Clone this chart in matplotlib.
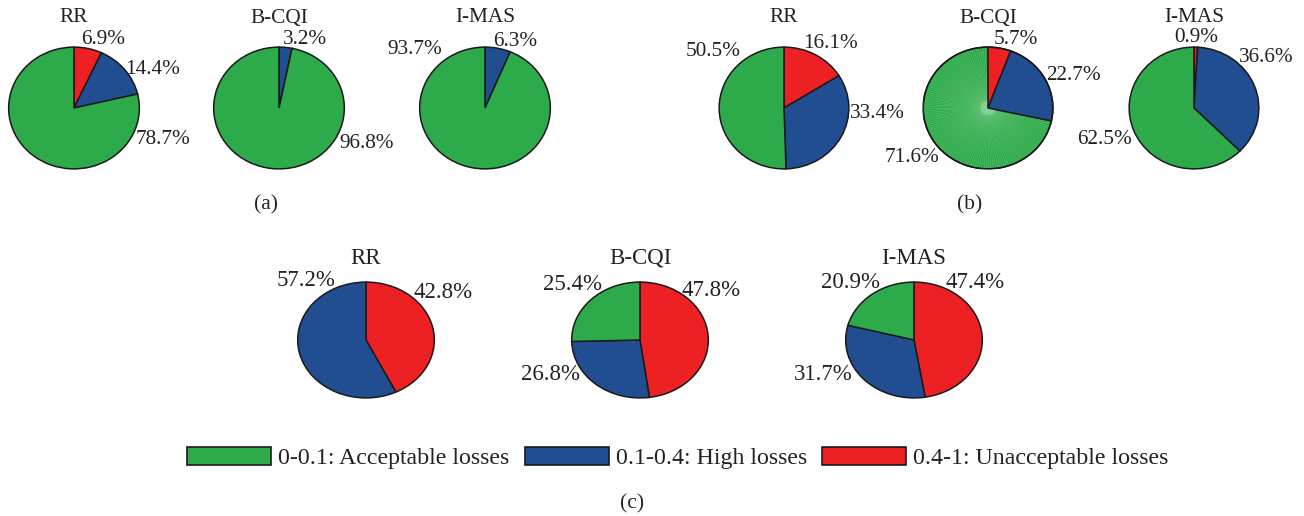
import matplotlib
matplotlib.use("Agg")
import numpy as np
import matplotlib.pyplot as plt
from matplotlib.patches import Patch

# ---------------- data ----------------
methods = ["RR", "B-CQI", "I-MAS"]
# order inside each pie (clockwise from top): unacceptable, high, acceptable
unacc_a = [6.9, 0.0, 0.0]
high_a = [14.4, 3.2, 6.3]
accept_a = [78.7, 96.8, 93.7]

unacc_b = [16.1, 5.7, 0.9]
high_b = [33.4, 22.7, 36.6]
accept_b = [50.5, 71.6, 62.5]

unacc_c = [42.8, 47.8, 47.4]
high_c = [57.2, 26.8, 31.7]
accept_c = [0.0, 25.4, 20.9]

legend_labels = ["0-0.1: Acceptable losses", "0.1-0.4: High losses",
                 "0.4-1: Unacceptable losses"]
panel_labels = ["(a)", "(b)", "(c)"]

# ---------------- style ----------------
C_RED = "#ED2024"
C_BLUE = "#214D91"
C_GREEN = "#2DAA4A"
EDGE = "#1a1a1a"
FONT = ["Liberation Serif", "DejaVu Serif"]
plt.rcParams["font.family"] = FONT

W, H = 1304, 516
fig = plt.figure(figsize=(W / 100, H / 100), dpi=100)

def px_text(x, y, s, size=15, **kw):
    fig.text(x / W, 1 - y / H, s, ha="center", va="center", fontsize=size,
             color="#222222", **kw)

layout = {
    "a": dict(centers=[74, 279, 485], cy=108, w=132, h=123, title_y=18,
              labels=[[(103, 40), (153, 70), (163, 140)],
                      [None, (305, 39), (367, 143)],
                      [None, (515, 41), (415, 50)]], size=15.3),
    "b": dict(centers=[784, 988, 1194], cy=108, w=131, h=123, title_y=18,
              labels=[[(830, 44), (877, 113), (713, 52)],
                      [(1016, 39), (1073, 75), (912, 157)],
                      [(1196, 38), (1266, 57), (1105, 140)]], size=15.3),
    "c": dict(centers=[366, 640, 914], cy=340, w=138, h=117, title_y=258,
              labels=[[(443, 292), (306, 280), None],
                      [(711, 290), (550, 374), (573, 284)],
                      [(975, 283), (823, 375), (851, 283)]], size=16.5),
}

panels = {
    "a": (unacc_a, high_a, accept_a),
    "b": (unacc_b, high_b, accept_b),
    "c": (unacc_c, high_c, accept_c),
}

for key, (un, hi, ac) in panels.items():
    L = layout[key]
    for i, m in enumerate(methods):
        vals = [un[i], hi[i], ac[i]]
        cols = [C_RED, C_BLUE, C_GREEN]
        cx, cy, w, h = L["centers"][i], L["cy"], L["w"], L["h"]
        ax = fig.add_axes([(cx - w / 2) / W, 1 - (cy + h / 2) / H, w / W, h / H])
        v_nz = [v for v in vals if v > 0]
        c_nz = [c for v, c in zip(vals, cols) if v > 0]
        wedges, _ = ax.pie(v_nz, colors=c_nz, startangle=90, counterclock=False,
                           radius=1.0,
                           wedgeprops=dict(edgecolor=EDGE, linewidth=1.1))
        # rendering texture seen in panel (b) B-CQI green slice
        if key == "b" and m == "B-CQI":
            gw = wedges[-1]
            t1, t2 = sorted((gw.theta1, gw.theta2))
            for ang in np.arange(t1 + 0.5, t2, 2.0):
                r = np.deg2rad(ang)
                ax.plot([0, 0.985 * np.cos(r)], [0, 0.985 * np.sin(r)],
                        color="#6CC77E", lw=0.35, alpha=0.8, zorder=1.5)
            ax.add_patch(plt.Circle((0, 0), 0.12, color="#9BDDA8", alpha=0.5,
                                    lw=0, zorder=1.6))
            gw.set_zorder(1)
            for wd in wedges[:-1]:
                wd.set_zorder(2)
            ax.add_patch(plt.Circle((0, 0), 1.0, fill=False, edgecolor=EDGE,
                                    lw=1.1, zorder=3))
        ax.set_aspect("auto")
        ax.set_xlim(-1.01, 1.01)
        ax.set_ylim(-1.01, 1.01)
        ax.axis("off")
        px_text(cx, L["title_y"], m, size=L["size"])
        for v, pos in zip(vals, L["labels"][i]):
            if v > 0 and pos is not None:
                px_text(pos[0], pos[1], f"{v:.1f}%", size=L["size"])

# panel captions
px_text(266, 205, panel_labels[0], size=15.5)
px_text(970, 205, panel_labels[1], size=15.5)
px_text(632, 504, panel_labels[2], size=15.5)

# legend
handles = [Patch(facecolor=c, edgecolor=EDGE, linewidth=1.2)
           for c in (C_GREEN, C_BLUE, C_RED)]
leg = fig.legend(handles, legend_labels, loc="center",
                 bbox_to_anchor=(678 / W, 1 - 458 / H), ncol=3, frameon=False,
                 fontsize=17.2, handlelength=3.5, handleheight=0.82,
                 handletextpad=0.3, columnspacing=0.65, borderpad=0)
for t in leg.get_texts():
    t.set_color("#222222")

fig.savefig("out.png", dpi=100)
